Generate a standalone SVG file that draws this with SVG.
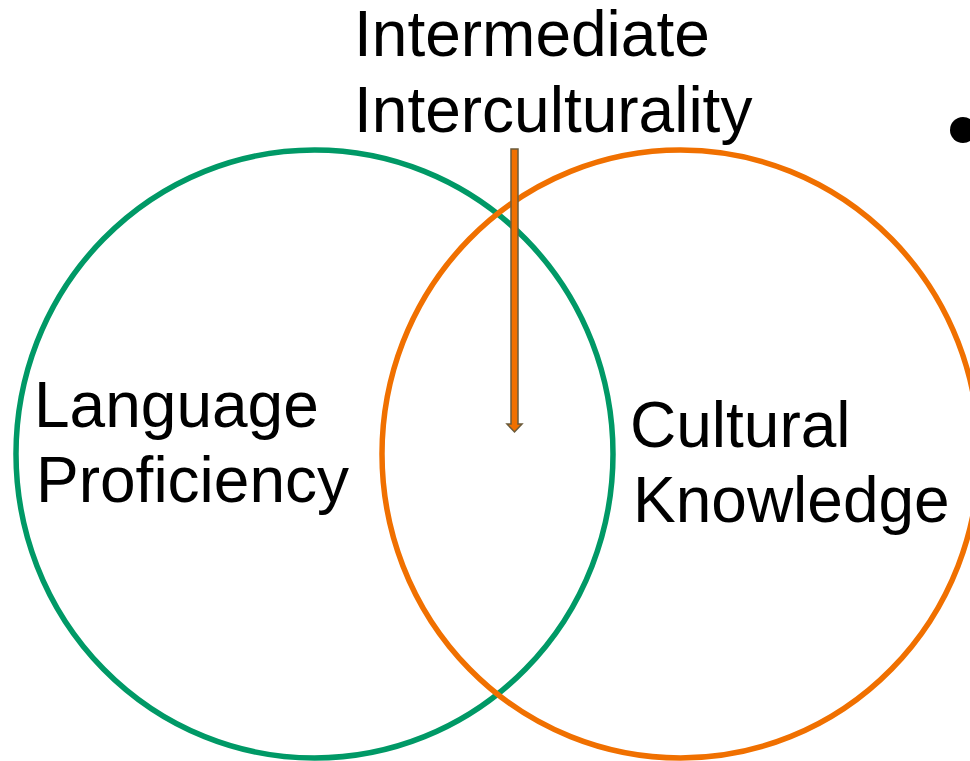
<svg xmlns="http://www.w3.org/2000/svg" width="970" height="761" viewBox="0 0 970 761">
<style>
.lbl{font-family:"Liberation Sans",Arial,sans-serif;font-size:64px;fill:#000}
.ring{fill:none;stroke-width:5.5}
</style>
<rect width="970" height="761" fill="#fff"/>
<g id="language-proficiency">
<ellipse class="ring" cx="314.5" cy="454" rx="298.5" ry="304" stroke="#009966"/>
<text class="lbl" x="34" y="427">Language</text>
<text class="lbl" x="36" y="502">Proficiency</text>
</g>
<g id="cultural-knowledge">
<ellipse class="ring" cx="680.5" cy="454" rx="298.5" ry="304" stroke="#F07000"/>
<text class="lbl" x="630" y="447">Cultural</text>
<text class="lbl" x="633" y="522">Knowledge</text>
</g>
<g id="intermediate-interculturality">
<text class="lbl" x="354" y="56">Intermediate</text>
<text class="lbl" x="354" y="132">Interculturality</text>
</g>
<g id="connectors">
<polygon points="511,149 518,149 518,424 522,424 514.5,432 507,424 511,424" fill="#F07000" stroke="#6B5B3B" stroke-width="1.5"/>
</g>
<g id="bullet">
<circle cx="963" cy="130" r="13" fill="#000"/>
</g>
</svg>
